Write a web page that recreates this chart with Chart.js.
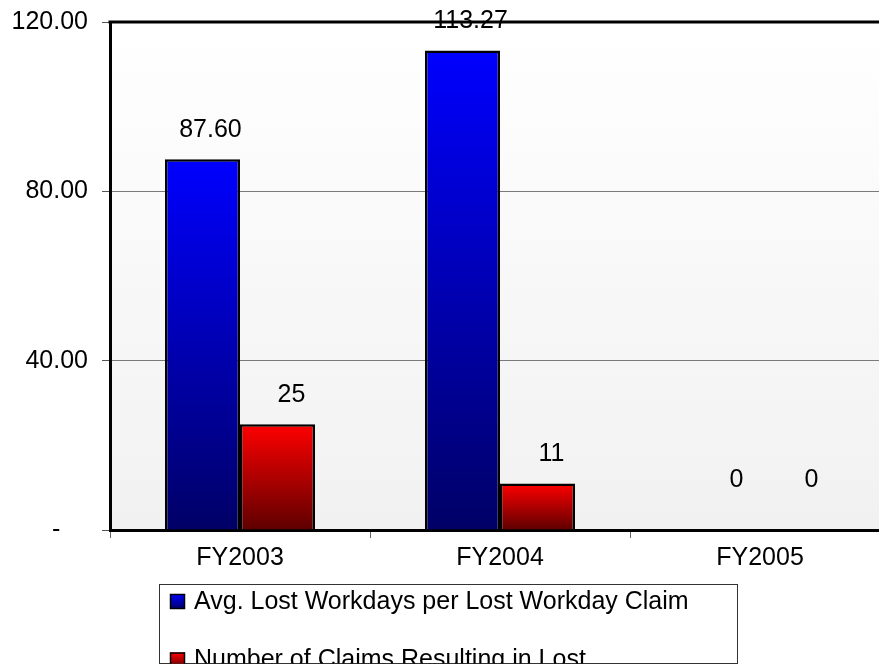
<!DOCTYPE html>
<html>
<head>
<meta charset="utf-8">
<script src="https://cdn.jsdelivr.net/npm/chart.js@4.4.1/dist/chart.umd.min.js"></script>
<style>
  html, body { margin: 0; padding: 0; background: #fff; overflow: hidden; }
  #chartHolder { position: absolute; left: 0; top: 0; width: 900px; height: 700px; }
</style>
</head>
<body>
<div id="chartHolder"><canvas id="claimsChart"></canvas></div>
<script>
const fiscalYears = ["FY2003", "FY2004", "FY2005"];
const avgLostWorkdays = [87.60, 113.27, 0];
const claimsWithLostWorkdays = [25, 11, 0];
const yTicks = [0, 40, 80, 120];
const avgSeriesName = ["Avg. Lost Workdays per Lost Workday Claim"];
const claimsSeriesName = ["Number of Claims Resulting in Lost", "Workdays"];

const fontFamily = "'Liberation Sans', Arial, sans-serif";
Chart.defaults.font.family = fontFamily;
Chart.defaults.font.size = 25;
Chart.defaults.color = "#000";

const blueTop = "#0000ff", blueBottom = "#000066";
const redTop = "#ff0000", redBottom = "#5e0000";

function barGradient(topColor, bottomColor) {
  return (ctx) => {
    const chart = ctx.chart;
    if (!chart.chartArea || ctx.type !== "data") return topColor;
    const yScale = chart.scales.y;
    const top = yScale.getPixelForValue(ctx.raw);
    const base = yScale.getPixelForValue(0);
    if (base - top < 1) return bottomColor;
    const gradient = chart.ctx.createLinearGradient(0, top, 0, base);
    gradient.addColorStop(0, topColor);
    gradient.addColorStop(1, bottomColor);
    return gradient;
  };
}

// plot area background, light gradient from white to grey
const plotBackground = {
  id: "plotBackground",
  beforeDraw(chart) {
    const { ctx, chartArea } = chart;
    const gradient = ctx.createLinearGradient(0, chartArea.top, 0, chartArea.bottom);
    gradient.addColorStop(0, "#ffffff");
    gradient.addColorStop(1, "#f1f1f1");
    ctx.save();
    ctx.fillStyle = gradient;
    ctx.fillRect(chartArea.left, chartArea.top, chartArea.right - chartArea.left, chartArea.bottom - chartArea.top);
    ctx.restore();
  }
};

// top border of plot area + value labels over the bars
const barValueLabels = {
  id: "barValueLabels",
  afterDatasetsDraw(chart) {
    const { ctx, chartArea } = chart;
    ctx.save();
    ctx.strokeStyle = "#000";
    ctx.lineWidth = 3;
    ctx.beginPath();
    ctx.moveTo(chartArea.left - 1.5, chartArea.top);
    ctx.lineTo(chartArea.right, chartArea.top);
    ctx.stroke();
    ctx.font = "25px " + fontFamily;
    ctx.fillStyle = "#000";
    ctx.textAlign = "center";
    ctx.textBaseline = "middle";
    chart.data.datasets.forEach((dataset, datasetIndex) => {
      chart.getDatasetMeta(datasetIndex).data.forEach((bar, index) => {
        const value = dataset.data[index];
        const text = value === 0 ? "0" : (datasetIndex === 0 ? value.toFixed(2) : String(value));
        const shift = (datasetIndex === 1 || value === 0) ? 14 : 8;
        ctx.fillText(text, bar.x + shift, Math.min(bar.y - 29, bar.base - 50));
      });
    });
    ctx.restore();
  }
};

// boxed legend below the axis, as in the original
const boxedLegend = {
  id: "boxedLegend",
  afterDraw(chart) {
    const { ctx } = chart;
    const box = { left: 159.5, top: 584.5, right: 737.5, bottom: 663.5 };
    ctx.save();
    ctx.fillStyle = "#fff";
    ctx.fillRect(box.left, box.top, box.right - box.left, box.bottom - box.top);
    ctx.strokeStyle = "#333";
    ctx.lineWidth = 1;
    ctx.strokeRect(box.left, box.top, box.right - box.left, box.bottom - box.top);
    ctx.beginPath();
    ctx.rect(box.left, box.top, box.right - box.left, box.bottom - box.top);
    ctx.clip();
    const entries = [
      { lines: avgSeriesName, colors: [blueTop, blueBottom], y: 594 },
      { lines: claimsSeriesName, colors: [redTop, redBottom], y: 652.5 }
    ];
    ctx.font = "25px " + fontFamily;
    ctx.textAlign = "left";
    ctx.textBaseline = "middle";
    entries.forEach(({ lines, colors, y }) => {
      const gradient = ctx.createLinearGradient(0, y, 0, y + 15);
      gradient.addColorStop(0, colors[0]);
      gradient.addColorStop(1, colors[1]);
      ctx.fillStyle = gradient;
      ctx.fillRect(170, y, 15, 15);
      ctx.strokeStyle = "#000";
      ctx.lineWidth = 1.5;
      ctx.strokeRect(170.5, y + 0.5, 14, 14);
      ctx.fillStyle = "#000";
      lines.forEach((line, i) => ctx.fillText(line, 194, y + 8 + i * 30));
    });
    ctx.restore();
  }
};

new Chart(document.getElementById("claimsChart"), {
  type: "bar",
  data: {
    labels: fiscalYears,
    datasets: [{
      label: avgSeriesName.join(" "),
      data: avgLostWorkdays,
      backgroundColor: barGradient(blueTop, blueBottom),
      borderColor: "#000",
      borderWidth: 2.5,
      categoryPercentage: 0.577,
      barPercentage: 1
    }, {
      label: claimsSeriesName.join(" "),
      data: claimsWithLostWorkdays,
      backgroundColor: barGradient(redTop, redBottom),
      borderColor: "#000",
      borderWidth: 2.5,
      categoryPercentage: 0.577,
      barPercentage: 1
    }]
  },
  options: {
    responsive: true,
    maintainAspectRatio: false,
    devicePixelRatio: 1,
    animation: false,
    layout: { padding: { top: 22, right: 10, left: 0, bottom: 0 } },
    plugins: {
      legend: { display: false },
      tooltip: { enabled: false }
    },
    scales: {
      x: {
        grid: { display: true, drawOnChartArea: false, offset: true, tickLength: 8, tickColor: "#666" },
        border: { display: true, color: "#000", width: 3 },
        ticks: { padding: 5, color: "#000", font: { size: 25 } },
        afterFit: (axis) => { axis.height = 170; }
      },
      y: {
        min: 0,
        max: 120,
        afterBuildTicks: (axis) => { axis.ticks = yTicks.map((value) => ({ value })); },
        grid: { color: "#7a7a7a", lineWidth: 1, tickLength: 8, tickColor: "#555" },
        border: { display: true, color: "#000", width: 3 },
        ticks: {
          padding: 14,
          color: "#000",
          font: { size: 25 },
          callback: (value) => value === 0 ? "-    " : Number(value).toFixed(2)
        },
        afterFit: (axis) => {
          axis.width = 110;
          axis.paddingTop = 0;
          axis.paddingBottom = 0;
        }
      }
    }
  },
  plugins: [plotBackground, barValueLabels, boxedLegend]
});
</script>
</body>
</html>
